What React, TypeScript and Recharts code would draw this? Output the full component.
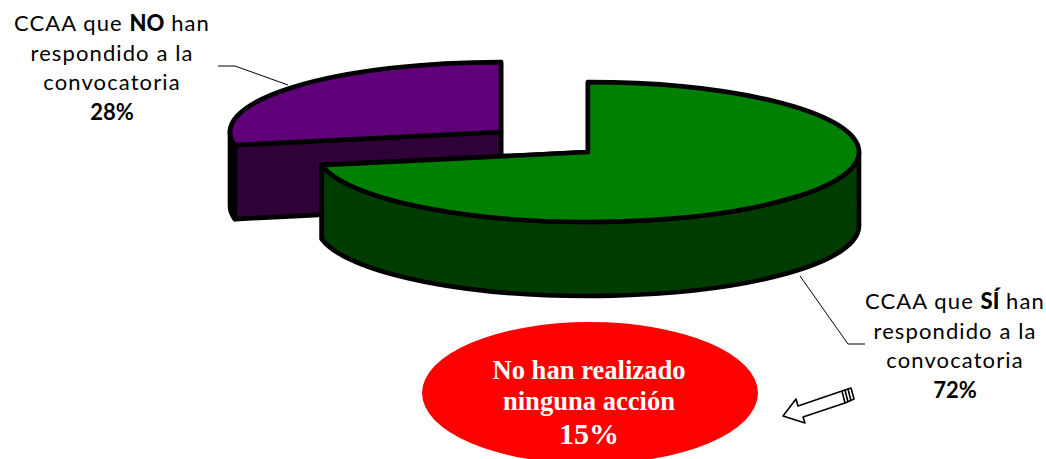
import React from 'react';
import { PieChart, Pie } from 'recharts';

const categories = ['NO', 'SÍ'];
const shares = [28, 72];
const sliceColors = ['#5f0078', '#008000'];
const wallColors = ['#300038', '#003c00'];
const noActionShare = 15;

const WIDTH = 1046;
const HEIGHT = 459;
const TILT = 0.258;
const DEPTH = 74;
// exploded offset of each slice from the pie centre
const EXPLODE = [
  { dx: -87, dy: -20 },
  { dx: 0, dy: 0 },
];
const LABEL_POS = [
  { x: 112, y: 31 },
  { x: 955, y: 309 },
];
const LEADERS = ['M218 66 L235 66 L288 85', 'M800 276 L848 344 L865 344'];
const LINE_GAP = 29.5;
const RAD = Math.PI / 180;

const ThreeDSlice = (props: any) => {
  const { cx, cy, outerRadius, startAngle, endAngle, index } = props;
  const rx = outerRadius;
  const ry = outerRadius * TILT;
  const ox = cx + EXPLODE[index].dx;
  const oy = cy + EXPLODE[index].dy;
  const pt = (a: number, drop = 0) =>
    `${ox + rx * Math.cos(a * RAD)} ${oy - ry * Math.sin(a * RAD) + drop}`;

  const large = endAngle - startAngle > 180 ? 1 : 0;
  const top = `M${ox} ${oy} L${pt(startAngle)} A${rx} ${ry} 0 ${large} 0 ${pt(endAngle)} Z`;

  // only the front half of the rim can be seen
  const rimFrom = Math.max(startAngle, 180);
  const rimTo = Math.min(endAngle, 360);
  const rim = `M${pt(rimFrom)} A${rx} ${ry} 0 0 0 ${pt(rimTo)} L${pt(rimTo, DEPTH)} A${rx} ${ry} 0 0 1 ${pt(rimFrom, DEPTH)} Z`;
  const cut = (a: number) =>
    `M${ox} ${oy} L${pt(a)} L${pt(a, DEPTH)} L${ox} ${oy + DEPTH} Z`;

  const common = { stroke: '#000', strokeWidth: 4.6, strokeLinejoin: 'round' as const };
  return (
    <g>
      <path d={cut(startAngle)} fill={wallColors[index]} {...common} />
      <path d={cut(endAngle)} fill={wallColors[index]} {...common} />
      <path d={rim} fill={wallColors[index]} {...common} />
      <path d={top} fill={sliceColors[index]} {...common} />
    </g>
  );
};

const renderLabel = (props: any) => {
  const { index } = props;
  const { x, y } = LABEL_POS[index];
  const lineProps = { x, textAnchor: 'middle' as const, letterSpacing: 1.1 };
  return (
    <text fontFamily="Lato" fontSize={22} fill="#000">
      <tspan {...lineProps} y={y}>
        CCAA que <tspan fontWeight={900} letterSpacing={0}>{categories[index]}</tspan> han
      </tspan>
      <tspan {...lineProps} y={y + LINE_GAP}>respondido a la</tspan>
      <tspan {...lineProps} y={y + LINE_GAP * 2}>convocatoria</tspan>
      <tspan x={x} textAnchor="middle" y={y + LINE_GAP * 3} fontWeight="bold">{shares[index]}%</tspan>
    </text>
  );
};

const renderLeader = (props: any) => (
  <path d={LEADERS[props.index]} fill="none" stroke="#000" strokeWidth={1} />
);

const chartData = categories.map((name, i) => ({ name, value: shares[i] }));

export default function App() {
  return (
    <div style={{ position: 'absolute', left: 0, top: 0, width: WIDTH, height: HEIGHT, overflow: 'hidden', background: '#fff' }}>
      <PieChart width={WIDTH} height={HEIGHT} margin={{ top: 0, right: 0, bottom: 0, left: 0 }}>
        <Pie
          data={chartData}
          dataKey="value"
          nameKey="name"
          cx={588}
          cy={152}
          outerRadius={271}
          startAngle={90}
          endAngle={450}
          shape={ThreeDSlice}
          label={renderLabel}
          labelLine={renderLeader}
          stroke="none"
          isAnimationActive={false}
        />
        <ellipse cx={590} cy={393} rx={168} ry={71} fill="#ff0000" />
        <text textAnchor="middle" fontFamily="Liberation Serif" fontWeight="bold" fill="#fff" fontSize={26.6}>
          <tspan x={589} y={379}>No han realizado</tspan>
          <tspan x={589} y={410}>ninguna acción</tspan>
          <tspan x={589} y={444} fontSize={30}>{noActionShare}%</tspan>
        </text>
        <g fill="#fff" stroke="#000" strokeWidth={1.6} strokeLinejoin="round">
          <path d="M783 416 L796 399 L798 406 L842 391 L851 388 L854 399 L845 403 L803 417 L805 423 Z" />
          <path d="M842 391 L845 403 M845 390 L848 402 M848 389 L851 401" fill="none" />
        </g>
      </PieChart>
    </div>
  );
}
